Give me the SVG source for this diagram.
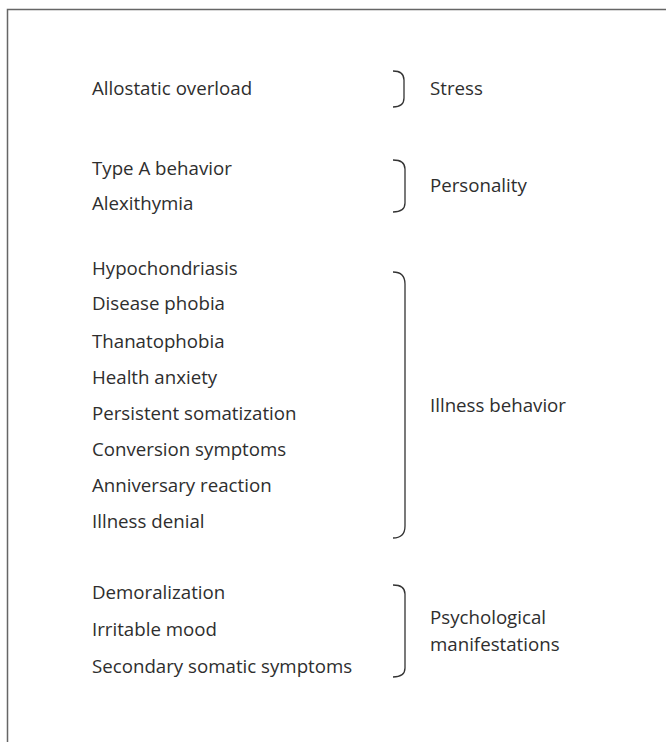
<svg xmlns="http://www.w3.org/2000/svg" width="666" height="742" viewBox="0 0 666 742">
<style>
text{font-family:"Open Sans","Noto Sans","DejaVu Sans",sans-serif;font-size:18.7px;fill:#2e2e2e}
.br{fill:none;stroke:#333;stroke-width:1.3}
</style>
<rect x="0" y="0" width="666" height="742" fill="#fff"/>
<path d="M7.5,742 V9.5 H666" fill="none" stroke="#666" stroke-width="1.5"/>
<g id="items">
<text x="92" y="95">Allostatic overload</text>
<text x="92" y="175">Type A behavior</text>
<text x="92" y="210">Alexithymia</text>
<text x="92" y="275">Hypochondriasis</text>
<text x="92" y="310">Disease phobia</text>
<text x="92" y="348">Thanatophobia</text>
<text x="92" y="384">Health anxiety</text>
<text x="92" y="420">Persistent somatization</text>
<text x="92" y="456">Conversion symptoms</text>
<text x="92" y="492">Anniversary reaction</text>
<text x="92" y="528">Illness denial</text>
<text x="92" y="599">Demoralization</text>
<text x="92" y="636">Irritable mood</text>
<text x="92" y="673">Secondary somatic symptoms</text>
</g>
<g id="connectors">
<path class="br" d="M393,71 Q404,71 404,80 L404,98 Q404,107 393,107"/>
<path class="br" d="M393,160 Q405,160 405,169 L405,203 Q405,212 393,212"/>
<path class="br" d="M393,272 Q405,272 405,284 L405,526 Q405,538 393,538"/>
<path class="br" d="M393,585 Q405,585 405,594 L405,668 Q405,677 393,677"/>
</g>
<g id="stress"><text x="430" y="95">Stress</text></g>
<g id="personality"><text x="430" y="192">Personality</text></g>
<g id="illness"><text x="430" y="412">Illness behavior</text></g>
<g id="psych"><text x="430" y="624">Psychological</text><text x="430" y="651">manifestations</text></g>
</svg>
